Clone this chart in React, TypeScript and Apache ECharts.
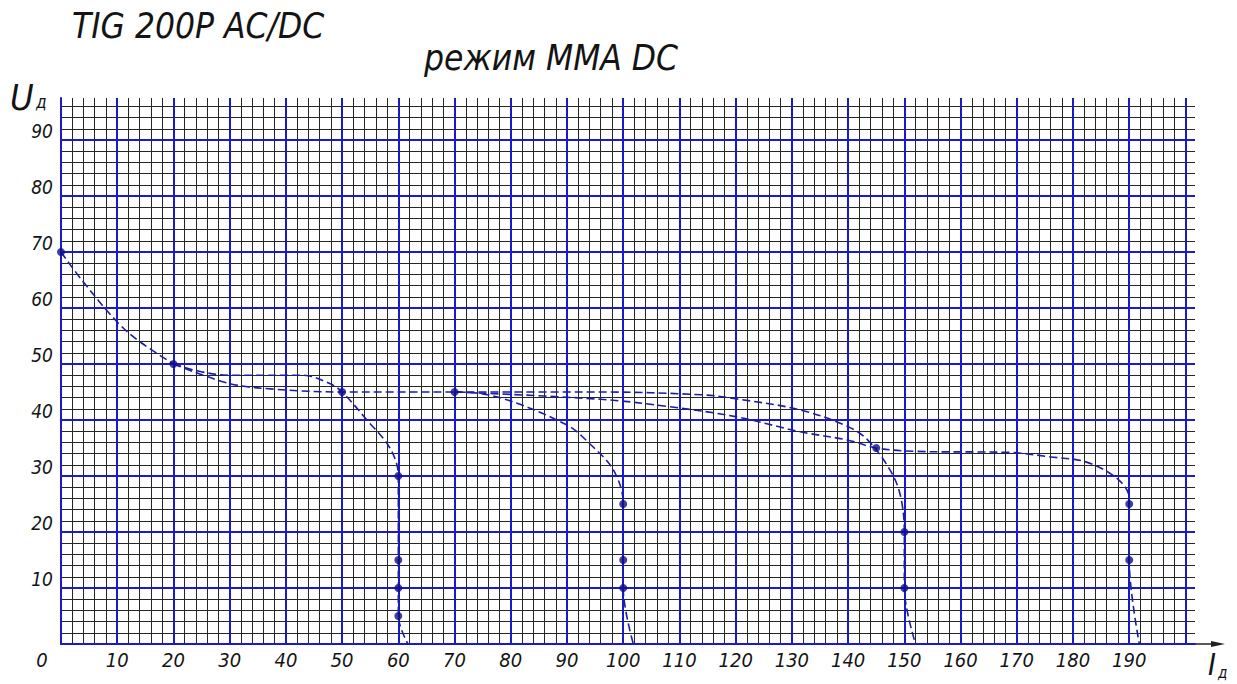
import React, { useEffect, useRef } from "react";
import * as echarts from "echarts";

// ---- data ----
const xMajorInterval = 10;
const xMinorInterval = 2;
const yMajorInterval = 10;
const yMinorInterval = 2;
const xMax = 201.7;
const yMax = 97.5;

const curveCommon: [number, number][] = [
  [0, 70], [3.7, 65], [10, 57.5], [14, 54], [20, 50],
];
const curve60: [number, number][] = [
  [20, 50], [25, 48.6], [30, 48], [43, 48], [47.8, 46.5], [50, 45],
  [54.4, 40], [58.5, 35], [60, 30], [60, 15], [60, 10], [60, 5], [61.7, 0],
];
const curve100: [number, number][] = [
  [20, 50], [30, 46.5], [38, 45.5], [50, 45], [70, 45], [78, 44], [90, 39.1],
  [94, 35.8], [98.3, 31], [100, 25], [100, 15], [100, 10], [101.8, 0],
];
const curve150: [number, number][] = [
  [70, 45], [96, 45], [114, 44.5], [120, 43.8], [131.5, 41.8], [140, 38.8],
  [143.5, 36.4], [147.5, 31], [149.3, 26.5], [150, 20], [150, 10], [152, 0],
];
const curve190: [number, number][] = [
  [70, 45], [96, 43.7], [108, 42.4], [120, 40.6], [131.5, 37.9], [140, 36.4],
  [145, 35], [152, 34.4], [169, 34.2], [176, 33.4], [182, 32.6], [187, 30.2],
  [189.6, 27.5], [190, 25], [190, 15], [191.8, 0],
];
const measuredPoints: [number, number][] = [
  [0, 70], [20, 50], [50, 45], [70, 45],
  [60, 30], [60, 15], [60, 10], [60, 5],
  [100, 25], [100, 15], [100, 10],
  [145, 35], [150, 20], [150, 10],
  [190, 25], [190, 15],
];

const titleText = "TIG 200P AC/DC";
const subtitleText = "режим MMA DC";
const yName = "U";
const xName = "I";
const nameSub = "д";
const originLabel = "0";

// ---- styles ----
const FONT_NUM = "'Liberation Sans Narrow', 'DejaVu Sans Condensed', sans-serif";
const FONT_TITLE = "'DejaVu Sans Condensed', 'DejaVu Sans', sans-serif";
const BLUE = "#1a1ac8";
const MINOR = "#262626";
const CURVE = "#1c1ca6";
const DOT = "#0e0e8a";
const TEXT = "#141414";

export default function App() {
  const ref = useRef<HTMLDivElement>(null);
  useEffect(() => {
    if (!ref.current) return;
    const chart = echarts.init(ref.current, null, { renderer: "svg" });

    const curve = (name: string, data: [number, number][]) => ({
      type: "line",
      name,
      data,
      xAxisIndex: 1,
      yAxisIndex: 1,
      smooth: 0.35,
      symbol: "none",
      showSymbol: false,
      lineStyle: { color: CURVE, width: 1.6, type: [8, 4] },
      z: 3,
    });

    const option: any = {
      animation: false,
      grid: {
        left: 61,
        top: 98,
        width: 1134,
        height: 546,
        containLabel: false,
        outerBoundsMode: "none",
      },
      xAxis: [
        {
          type: "value",
          min: 0,
          max: xMax,
          interval: xMinorInterval,
          position: "top",
          axisLine: { show: false },
          axisTick: { show: false },
          axisLabel: { show: false },
          splitLine: { show: true, showMaxLine: false, lineStyle: { color: MINOR, width: 1 } },
          z: 0,
        },
        {
          type: "value",
          min: 0,
          max: xMax,
          interval: xMajorInterval,
          position: "bottom",
          axisLine: { show: true, onZero: false, lineStyle: { color: BLUE, width: 2 } },
          axisTick: { show: false },
          axisLabel: {
            show: true,
            margin: 6,
            fontSize: 20,
            fontStyle: "italic",
            fontFamily: FONT_NUM,
            color: TEXT,
            showMaxLabel: false,
            formatter: (v: number) => (v === 0 || v >= 200 ? "" : String(v)),
          },
          splitLine: { show: true, showMaxLine: false, lineStyle: { color: BLUE, width: 2 } },
          z: 1,
        },
      ],
      yAxis: [
        {
          type: "value",
          min: 0,
          max: yMax,
          interval: yMinorInterval,
          position: "right",
          axisLine: { show: false },
          axisTick: { show: false },
          axisLabel: { show: false },
          splitLine: { show: true, showMaxLine: false, lineStyle: { color: MINOR, width: 1 } },
          z: 0,
        },
        {
          type: "value",
          min: 0,
          max: yMax,
          interval: yMajorInterval,
          position: "left",
          axisLine: { show: true, onZero: false, lineStyle: { color: BLUE, width: 2 } },
          axisTick: { show: false },
          axisLabel: {
            show: true,
            margin: 8,
            fontSize: 19,
            fontStyle: "italic",
            fontFamily: FONT_NUM,
            color: TEXT,
            verticalAlign: "bottom",
            showMaxLabel: false,
            formatter: (v: number) => (v === 0 || v > 90 ? "" : String(v)),
          },
          splitLine: { show: true, showMaxLine: false, lineStyle: { color: BLUE, width: 2 } },
          z: 1,
        },
      ],
      series: [
        curve("common", curveCommon),
        curve("60", curve60),
        curve("100", curve100),
        curve("150", curve150),
        curve("190", curve190),
        {
          type: "scatter",
          name: "points",
          data: measuredPoints,
          xAxisIndex: 1,
          yAxisIndex: 1,
          symbolSize: 8,
          itemStyle: { color: DOT },
          z: 4,
        },
      ],
      graphic: [
        {
          type: "text",
          left: 72,
          top: 8,
          style: { text: titleText, font: `italic 35px ${FONT_TITLE}`, fill: TEXT },
        },
        {
          type: "text",
          left: 424,
          top: 40,
          style: { text: subtitleText, font: `italic 35px ${FONT_TITLE}`, fill: TEXT },
        },
        {
          type: "text",
          x: 10,
          y: 97,
          style: { text: yName, font: `italic 36px ${FONT_TITLE}`, fill: TEXT, verticalAlign: "middle" },
        },
        {
          type: "text",
          x: 36,
          y: 102,
          style: { text: nameSub, font: `italic 17px ${FONT_TITLE}`, fill: TEXT, verticalAlign: "middle" },
        },
        {
          type: "text",
          x: 1208,
          y: 664,
          style: { text: xName, font: `italic 30px ${FONT_TITLE}`, fill: TEXT, verticalAlign: "middle" },
        },
        {
          type: "text",
          x: 1218,
          y: 673,
          style: { text: nameSub, font: `italic 15px ${FONT_TITLE}`, fill: TEXT, verticalAlign: "middle" },
        },
        {
          type: "text",
          x: 42,
          y: 660,
          style: {
            text: originLabel,
            font: `italic 20px ${FONT_NUM}`,
            fill: TEXT,
            align: "center",
            verticalAlign: "middle",
          },
        },
        {
          type: "line",
          shape: { x1: 1195, y1: 644, x2: 1218, y2: 644 },
          style: { stroke: "#222", lineWidth: 1.5 },
        },
        {
          type: "polygon",
          shape: { points: [[1225, 644], [1211, 641], [1211, 647]] },
          style: { fill: "#222" },
        },
      ],
    };
    chart.setOption(option);
    return () => chart.dispose();
  }, []);

  return (
    <div
      ref={ref}
      style={{ position: "fixed", left: 0, top: 0, width: 1237, height: 684, background: "#fff" }}
    />
  );
}
